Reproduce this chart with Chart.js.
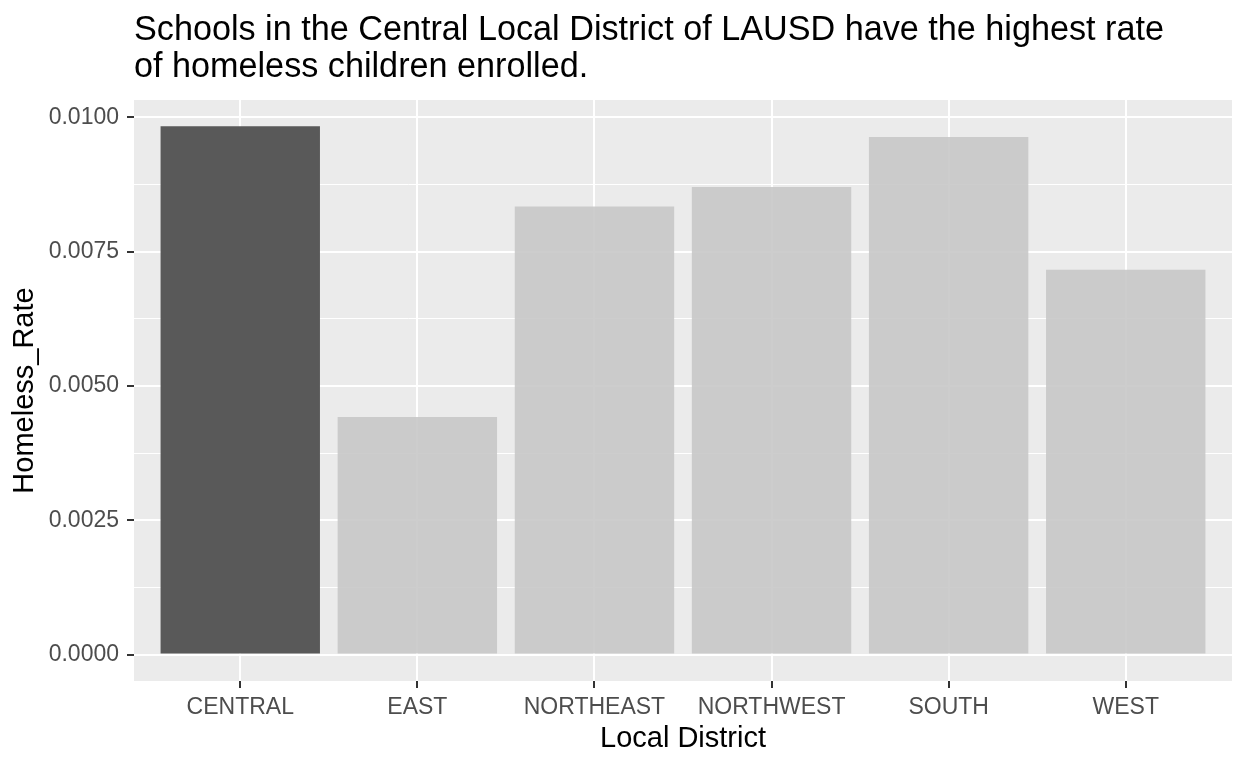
<!DOCTYPE html>
<html>
<head>
<meta charset="utf-8">
<script src="https://cdn.jsdelivr.net/npm/chart.js@4/dist/chart.umd.min.js"></script>
<style>
  html, body { margin: 0; padding: 0; background: #ffffff; }
  canvas { display: block; }
</style>
</head>
<body>
<canvas id="c" width="1248" height="768"></canvas>
<script>
const titleLines = ["Schools in the Central Local District of LAUSD have the highest rate", "of homeless children enrolled."];
const categories = ["CENTRAL", "EAST", "NORTHEAST", "NORTHWEST", "SOUTH", "WEST"];
const homelessRate = [0.00983, 0.00442, 0.00834, 0.00870, 0.00963, 0.00716];
const highlight = ["CENTRAL"];
const yMajorTicks = [0, 0.0025, 0.005, 0.0075, 0.01];
const yMinorTicks = [0.00125, 0.00375, 0.00625, 0.00875];
const xTitle = "Local District";
const yTitle = "Homeless_Rate";

const FONT = "'Liberation Sans', Arial, sans-serif";
const isMajor = v => yMajorTicks.some(t => Math.abs(t - v) < 1e-9);

const panelBg = {
  id: 'panelBg',
  beforeDraw(chart) {
    const a = chart.chartArea, ctx = chart.ctx;
    ctx.save();
    ctx.fillStyle = '#EBEBEB';
    ctx.fillRect(a.left, a.top, a.right - a.left, a.bottom - a.top);
    ctx.restore();
  },
  afterDraw(chart) {
    const ctx = chart.ctx;
    ctx.save();
    ctx.fillStyle = '#000000';
    ctx.font = "34.2px " + FONT;
    ctx.textAlign = 'left';
    ctx.textBaseline = 'alphabetic';
    ctx.fillText(titleLines[0], chart.chartArea.left, 40);
    ctx.fillText(titleLines[1], chart.chartArea.left, 77);
    ctx.restore();
  }
};

new Chart(document.getElementById('c'), {
  type: 'bar',
  data: {
    datasets: [{
      data: categories.map((c, i) => ({ x: i + 1, y: homelessRate[i] })),
      backgroundColor: categories.map(c => highlight.includes(c) ? '#595959' : 'rgba(200,200,200,0.9)'),
      borderWidth: 0,
      inflateAmount: 0,
      categoryPercentage: 0.9,
      barPercentage: 1.0
    }]
  },
  plugins: [panelBg],
  options: {
    responsive: false,
    animation: false,
    events: [],
    layout: { padding: { left: 0, right: 16, top: 100, bottom: 0 } },
    plugins: { legend: { display: false }, tooltip: { enabled: false }, title: { display: false } },
    scales: {
      x: {
        type: 'linear',
        min: 0.4,
        max: categories.length + 0.6,
        offset: false,
        afterBuildTicks(scale) { scale.ticks = categories.map((c, i) => ({ value: i + 1 })); },
        afterFit(scale) { scale.height = 87; },
        ticks: {
          autoSkip: false,
          maxRotation: 0,
          padding: 6,
          color: '#4D4D4D',
          font: { family: FONT, size: 23 },
          callback: (v) => categories[Math.round(v) - 1]
        },
        grid: {
          offset: false,
          color: '#FFFFFF',
          lineWidth: 2,
          drawTicks: true,
          tickLength: 7,
          tickColor: '#333333',
          tickWidth: 2
        },
        border: { display: false },
        title: {
          display: true,
          text: xTitle,
          color: '#000000',
          font: { family: FONT, size: 29 },
          padding: { top: 0, bottom: 12 }
        }
      },
      y: {
        min: -0.000492,
        max: 0.01032,
        afterBuildTicks(scale) {
          scale.ticks = yMajorTicks.concat(yMinorTicks).sort((a, b) => a - b).map(v => ({ value: v }));
        },
        afterFit(scale) { scale.width = 134; },
        ticks: {
          autoSkip: false,
          padding: 8,
          color: '#4D4D4D',
          font: { family: FONT, size: 23 },
          callback: (v) => isMajor(v) ? v.toFixed(4) : ''
        },
        grid: {
          color: '#FFFFFF',
          lineWidth: (ctx) => isMajor(ctx.tick.value) ? 2 : 1,
          drawTicks: true,
          tickLength: 7,
          tickColor: (ctx) => isMajor(ctx.tick.value) ? '#333333' : 'rgba(0,0,0,0)',
          tickWidth: 2
        },
        border: { display: false },
        title: {
          display: true,
          text: yTitle,
          color: '#000000',
          font: { family: FONT, size: 29 },
          padding: { top: 8, bottom: 0 }
        }
      }
    }
  }
});
</script>
</body>
</html>
